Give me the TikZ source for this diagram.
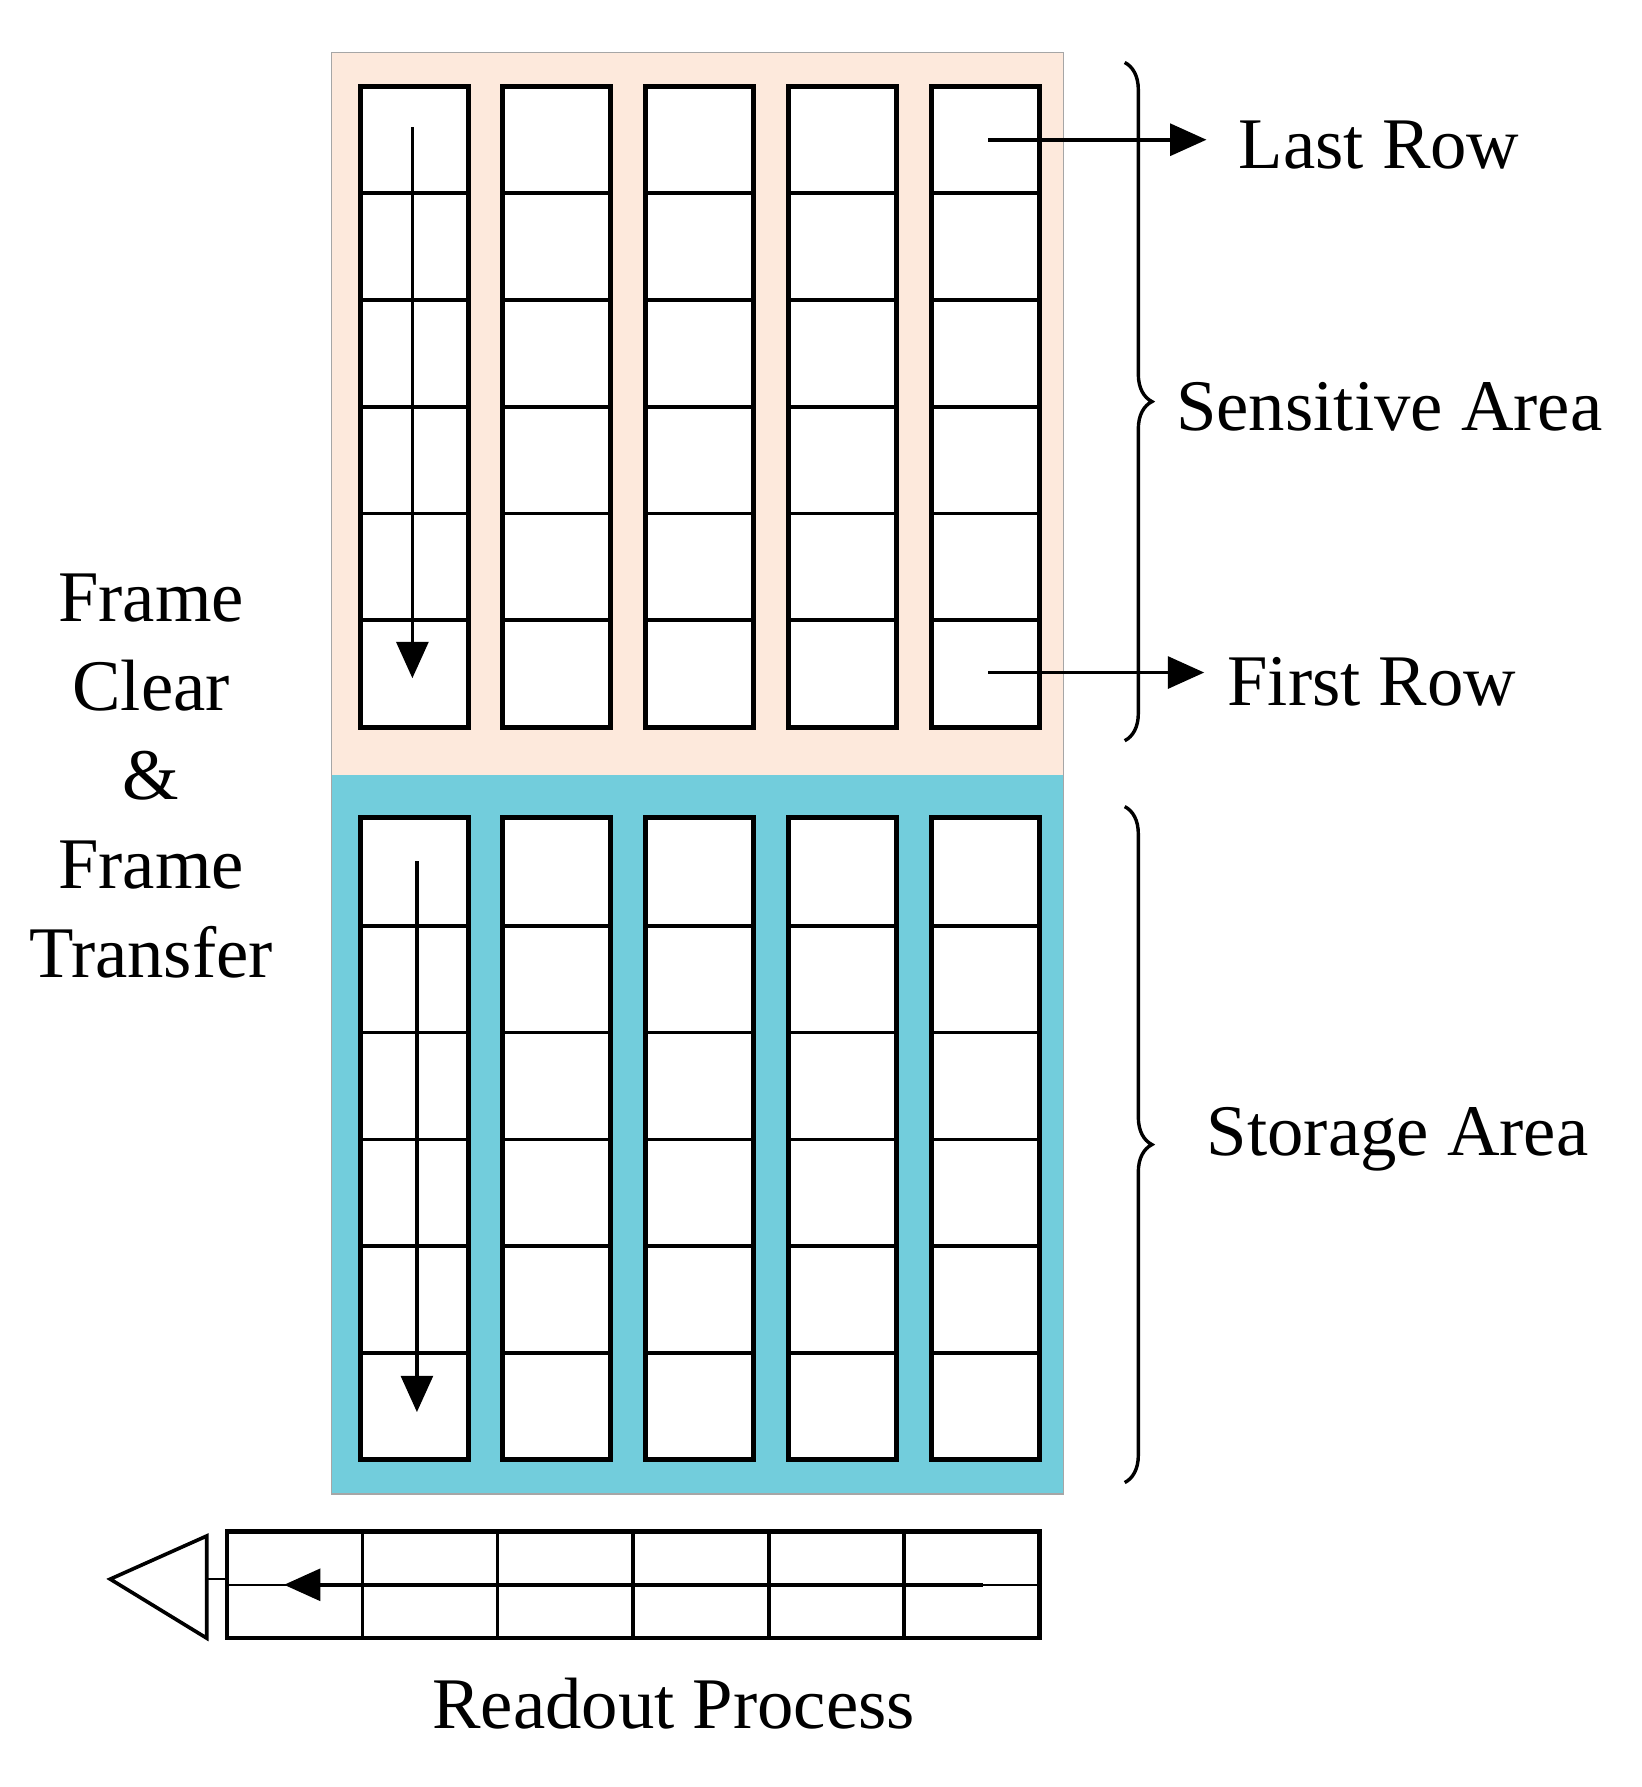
\documentclass[tikz,border=0pt]{standalone}
\usepackage{fontspec}
\setmainfont{Liberation Serif}
\usetikzlibrary{arrows.meta,decorations.pathreplacing}
\definecolor{peach}{HTML}{FDE9DC}
\definecolor{cyanfill}{HTML}{72CDDC}
\tikzset{lbl/.style={font=\fontsize{32}{38}\selectfont,inner sep=0pt},
 cellline/.style={line width=1.6pt},
 colbox/.style={draw,line width=2.2pt,fill=white},
 arr/.style={line width=1.6pt,-{Triangle[length=16pt,width=14pt]}},
 brc/.style={line width=1.5pt,decorate,decoration={brace,amplitude=12pt}}}
\begin{document}
\begin{tikzpicture}[x=0.5pt,y=-0.5pt]
\useasboundingbox (0,0) rectangle (1445,1573);
\fill[peach] (292,46) rectangle (936,682);
\fill[cyanfill] (292,682) rectangle (936,1315);
\draw[line width=0.6pt,gray!70] (292,46) rectangle (936,1315);
\foreach \x in {317,442,568,694,820}{
  \draw[colbox] (\x,76) rectangle ++(95,564);
  \foreach \y in {170,264,358,452,546} \draw[cellline] (\x,\y) -- ++(95,0);
  \draw[colbox] (\x,720) rectangle ++(95,565);
  \foreach \y in {815,909,1003,1097,1191} \draw[cellline] (\x,\y) -- ++(95,0);
}
\coordinate (s1) at (363,112); \coordinate (s2) at (363,597);
\draw[arr] (s1) -- (s2);
\coordinate (t1) at (367,758); \coordinate (t2) at (367,1243);
\draw[arr] (t1) -- (t2);
\node[lbl,anchor=west] (last) at (1090,128) {Last Row};
\node[lbl,anchor=west] (first) at (1080,600) {First Row};
\coordinate (l0) at (870,123); \coordinate (f0) at (870,592);
\draw[arr] (l0) -- (1062,123);
\draw[arr] (f0) -- (1060,592);
\draw[brc] (990,55) -- (990,652);
\node[lbl,anchor=west] (sens) at (1035,358) {Sensitive Area};
\draw[brc] (990,710) -- (990,1305);
\node[lbl,anchor=west] (stor) at (1062,1003) {Storage Area};
\node[lbl,align=center] (fc) at (133,683) {Frame\\[1.2pt]Clear\\[1.2pt]\&\\[1.2pt]Frame\\[1.2pt]Transfer};
\draw[line width=2pt] (200,1348) rectangle (915,1442);
\foreach \x in {319,438,557,677,796} \draw[cellline] (\x,1348) -- (\x,1442);
\draw[line width=1pt] (200,1395) -- (915,1395);
\coordinate (r1) at (865,1395); \coordinate (r2) at (250,1395);
\draw[arr] (r1) -- (r2);
\draw[line width=1.6pt] (182,1352) -- (97,1390) -- (182,1442) -- cycle;
\draw[line width=1.2pt] (182,1390) -- (200,1390);
\node[lbl] (ro) at (593,1500) {Readout Process};
\end{tikzpicture}
\end{document}
